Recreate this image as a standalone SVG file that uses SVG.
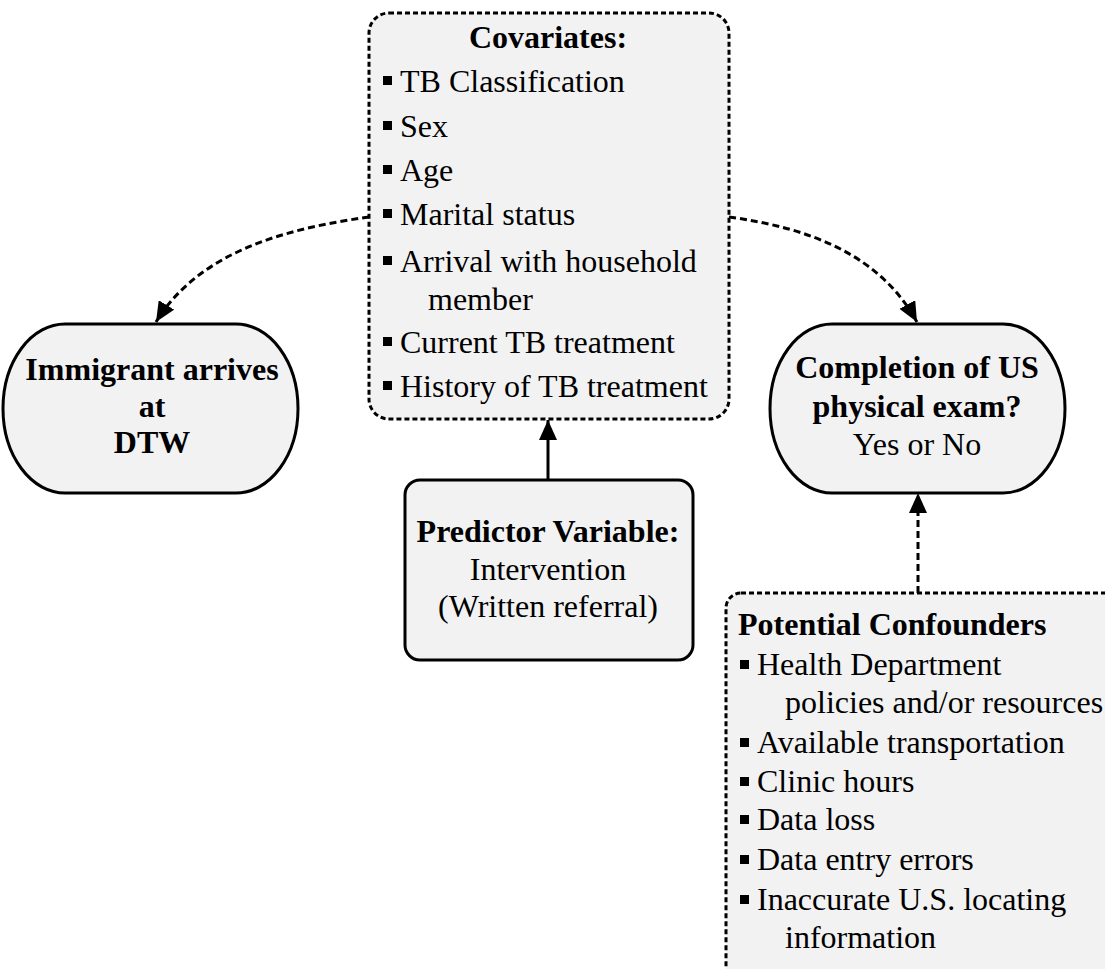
<svg xmlns="http://www.w3.org/2000/svg" width="1105" height="969" viewBox="0 0 1105 969">
<defs>
<style>
.t{font-family:"Liberation Serif","Times New Roman",serif;font-size:32px;fill:#000}
.b{font-weight:bold}
.c{text-anchor:middle}
.box{fill:#f2f2f2;stroke:#000;stroke-width:3}
.dot{stroke-dasharray:5 3}
.conn{fill:none;stroke:#000;stroke-width:3}
.dash{stroke-dasharray:7 4}
</style>
<marker id="ah" markerUnits="userSpaceOnUse" markerWidth="20" markerHeight="18" refX="20" refY="9" orient="auto">
<path d="M0,0 L20,9 L0,18 z" fill="#000"/>
</marker>
</defs>
<rect width="1105" height="969" fill="#fff"/>

<g id="covariates">
<rect class="box dot" x="369" y="13" width="360" height="406" rx="20"/>
<text class="t b c" x="548" y="48">Covariates:</text>
<g fill="#000">
<rect x="383" y="76" width="9" height="9"/>
<rect x="383" y="121" width="9" height="9"/>
<rect x="383" y="165" width="9" height="9"/>
<rect x="383" y="209" width="9" height="9"/>
<rect x="383" y="256" width="9" height="9"/>
<rect x="383" y="337" width="9" height="9"/>
<rect x="383" y="381" width="9" height="9"/>
</g>
<text class="t" x="400" y="92">TB Classification</text>
<text class="t" x="400" y="137">Sex</text>
<text class="t" x="400" y="181">Age</text>
<text class="t" x="400" y="225">Marital status</text>
<text class="t" x="400" y="272">Arrival with household</text>
<text class="t" x="428" y="310">member</text>
<text class="t" x="400" y="353">Current TB treatment</text>
<text class="t" x="400" y="397">History of TB treatment</text>
</g>

<g id="immigrant">
<rect class="box" x="3" y="324" width="295" height="169" rx="62" ry="84.5"/>
<text class="t b c" x="152" y="380">Immigrant arrives</text>
<text class="t b c" x="152" y="417">at</text>
<text class="t b c" x="152" y="453">DTW</text>
</g>

<g id="completion">
<rect class="box" x="770" y="324" width="295" height="169" rx="62" ry="84.5"/>
<text class="t b c" x="917" y="378">Completion of US</text>
<text class="t b c" x="917" y="417">physical exam?</text>
<text class="t c" x="917" y="455">Yes or No</text>
</g>

<g id="predictor">
<rect class="box" x="405" y="480" width="288" height="180" rx="15"/>
<text class="t b c" x="548" y="542">Predictor Variable:</text>
<text class="t c" x="548" y="580">Intervention</text>
<text class="t c" x="548" y="617">(Written referral)</text>
</g>

<g id="confounders">
<rect class="box dot" x="726" y="593" width="420" height="420" rx="15"/>
<text class="t b" x="738" y="635">Potential Confounders</text>
<g fill="#000">
<rect x="740" y="660" width="9" height="9"/>
<rect x="740" y="738" width="9" height="9"/>
<rect x="740" y="777" width="9" height="9"/>
<rect x="740" y="815" width="9" height="9"/>
<rect x="740" y="855" width="9" height="9"/>
<rect x="740" y="895" width="9" height="9"/>
</g>
<text class="t" x="757" y="675">Health Department</text>
<text class="t" x="785" y="713">policies and/or resources</text>
<text class="t" x="757" y="753">Available transportation</text>
<text class="t" x="757" y="792">Clinic hours</text>
<text class="t" x="757" y="830">Data loss</text>
<text class="t" x="757" y="870">Data entry errors</text>
<text class="t" x="757" y="910">Inaccurate U.S. locating</text>
<text class="t" x="785" y="948">information</text>
</g>

<g id="connectors">
<path class="conn dash" d="M369,217 C290,228 200,250 156,322" marker-end="url(#ah)"/>
<path class="conn dash" d="M729,217 C810,228 880,255 917,322" marker-end="url(#ah)"/>
<path class="conn" d="M548,480 L548,420" marker-end="url(#ah)"/>
<path class="conn dash" d="M918,593 L918,493" marker-end="url(#ah)"/>
</g>
</svg>
